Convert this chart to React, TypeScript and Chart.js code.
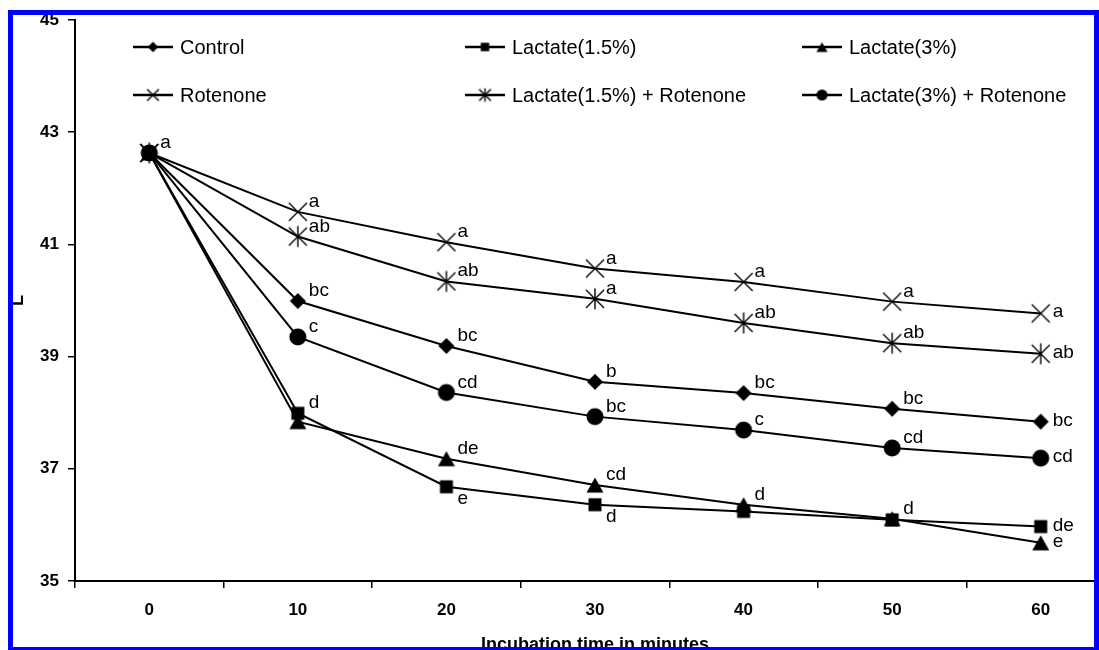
import React, { useEffect, useRef } from 'react';
import { Chart, registerables } from 'chart.js';

Chart.register(...registerables);

// ---------------- data ----------------
const timeLabels = ['0', '10', '20', '30', '40', '50', '60'];
const yMin = 35;
const yMax = 45;
const yStep = 2;

const seriesNames = [
  'Control',
  'Lactate(1.5%)',
  'Lactate(3%)',
  'Rotenone',
  'Lactate(1.5%) + Rotenone',
  'Lactate(3%) + Rotenone',
];

const controlValues = [42.63, 39.99, 39.19, 38.55, 38.35, 38.07, 37.84];
const lactate15Values = [42.63, 37.99, 36.68, 36.36, 36.24, 36.09, 35.97];
const lactate3Values = [42.63, 37.84, 37.18, 36.71, 36.36, 36.11, 35.68];
const rotenoneValues = [42.63, 41.58, 41.04, 40.57, 40.33, 39.98, 39.77];
const lactate15RotValues = [42.63, 41.14, 40.34, 40.03, 39.6, 39.24, 39.05];
const lactate3RotValues = [42.63, 39.35, 38.36, 37.93, 37.69, 37.37, 37.19];

const controlLetters = ['', 'bc', 'bc', 'b', 'bc', 'bc', 'bc'];
const lactate15Letters = ['', 'd', 'e', 'd', '', '', 'de'];
const lactate3Letters = ['', '', 'de', 'cd', 'd', 'd', 'e'];
const rotenoneLetters = ['a', 'a', 'a', 'a', 'a', 'a', 'a'];
const lactate15RotLetters = ['', 'ab', 'ab', 'a', 'ab', 'ab', 'ab'];
const lactate3RotLetters = ['', 'c', 'cd', 'bc', 'c', 'cd', 'cd'];

// letter placement: u = upper right, d = lower right, r = right
const defaultPlaces = ['u', 'u', 'u', 'u', 'u', 'u', 'r'];
const lactate15Places = ['u', 'u', 'd', 'd', 'u', 'u', 'r'];

const xAxisTitle = 'Incubation time in minutes';
const yAxisTitle = 'L';

const FONT = '"Liberation Sans", Arial, Helvetica, sans-serif';

// ---------------- markers ----------------
function makeMarker(kind: string, scale: number): HTMLCanvasElement {
  const size = Math.ceil(26 * scale) + 2;
  const c = document.createElement('canvas');
  c.width = size;
  c.height = size;
  const ctx = c.getContext('2d') as CanvasRenderingContext2D;
  const cx = size / 2;
  const cy = size / 2;
  ctx.fillStyle = '#000';
  ctx.strokeStyle = '#000';
  ctx.lineWidth = 1.4;
  ctx.beginPath();
  if (kind === 'diamond') {
    const r = 8 * scale;
    ctx.moveTo(cx, cy - r);
    ctx.lineTo(cx + r, cy);
    ctx.lineTo(cx, cy + r);
    ctx.lineTo(cx - r, cy);
    ctx.closePath();
    ctx.fill();
  } else if (kind === 'square') {
    const h = 6.5 * scale;
    ctx.rect(cx - h, cy - h, 2 * h, 2 * h);
    ctx.fill();
  } else if (kind === 'triangle') {
    const w = 8.5 * scale;
    const h = 7.5 * scale;
    ctx.moveTo(cx, cy - h);
    ctx.lineTo(cx + w, cy + h);
    ctx.lineTo(cx - w, cy + h);
    ctx.closePath();
    ctx.fill();
  } else if (kind === 'circle') {
    ctx.arc(cx, cy, 8.5 * scale, 0, Math.PI * 2);
    ctx.fill();
  } else if (kind === 'x') {
    const d = 9 * scale;
    ctx.moveTo(cx - d, cy - d);
    ctx.lineTo(cx + d, cy + d);
    ctx.moveTo(cx + d, cy - d);
    ctx.lineTo(cx - d, cy + d);
    ctx.stroke();
  } else if (kind === 'asterisk') {
    const d = 9 * scale;
    const v = 10.5 * scale;
    ctx.moveTo(cx - d, cy - d);
    ctx.lineTo(cx + d, cy + d);
    ctx.moveTo(cx + d, cy - d);
    ctx.lineTo(cx - d, cy + d);
    ctx.moveTo(cx, cy - v);
    ctx.lineTo(cx, cy + v);
    ctx.stroke();
  }
  return c;
}

const markerKinds = ['diamond', 'square', 'triangle', 'x', 'asterisk', 'circle'];

// ---------------- plugins ----------------
const letterPlugin = {
  id: 'letterPlugin',
  afterDatasetsDraw(chart: any) {
    const ctx = chart.ctx as CanvasRenderingContext2D;
    ctx.save();
    ctx.font = `19px ${FONT}`;
    ctx.fillStyle = '#000';
    ctx.textAlign = 'left';
    ctx.textBaseline = 'alphabetic';
    chart.data.datasets.forEach((ds: any, i: number) => {
      const meta = chart.getDatasetMeta(i);
      meta.data.forEach((pt: any, j: number) => {
        const t = ds.letters[j];
        if (!t) return;
        const p = ds.places[j];
        const dx = p === 'r' ? 12 : 11;
        const dy = p === 'd' ? 17 : p === 'r' ? 4 : -5;
        ctx.fillText(t, pt.x + dx, pt.y + dy);
      });
    });
    ctx.restore();
  },
};

const decorPlugin = {
  id: 'decorPlugin',
  afterDraw(chart: any) {
    const ctx = chart.ctx as CanvasRenderingContext2D;
    const area = chart.chartArea;
    ctx.save();
    ctx.fillStyle = '#000';
    ctx.strokeStyle = '#000';
    // axis titles
    ctx.font = `bold 18px ${FONT}`;
    ctx.textAlign = 'center';
    ctx.textBaseline = 'middle';
    ctx.fillText(xAxisTitle, (area.left + area.right) / 2, 645);
    ctx.save();
    ctx.translate(18, (area.top + area.bottom) / 2);
    ctx.rotate(-Math.PI / 2);
    ctx.fillText(yAxisTitle, 0, 0);
    ctx.restore();
    // legend
    const cols = [133, 465, 802];
    const rows = [47, 95];
    ctx.font = `20px ${FONT}`;
    ctx.textAlign = 'left';
    ctx.textBaseline = 'middle';
    chart.data.datasets.forEach((ds: any, i: number) => {
      const x0 = cols[i % 3];
      const y = rows[Math.floor(i / 3)];
      ctx.beginPath();
      ctx.lineWidth = 2.5;
      ctx.moveTo(x0, y);
      ctx.lineTo(x0 + 40, y);
      ctx.stroke();
      const m = ds.legendMarker as HTMLCanvasElement;
      ctx.drawImage(m, x0 + 20 - m.width / 2, y - m.height / 2);
      ctx.fillText(ds.label, x0 + 47, y + 1);
    });
    ctx.restore();
  },
};

export default function App() {
  const ref = useRef<HTMLCanvasElement>(null);

  useEffect(() => {
    const valueSets = [
      controlValues,
      lactate15Values,
      lactate3Values,
      rotenoneValues,
      lactate15RotValues,
      lactate3RotValues,
    ];
    const letterSets = [
      controlLetters,
      lactate15Letters,
      lactate3Letters,
      rotenoneLetters,
      lactate15RotLetters,
      lactate3RotLetters,
    ];
    const placeSets = [
      defaultPlaces,
      lactate15Places,
      defaultPlaces,
      defaultPlaces,
      defaultPlaces,
      defaultPlaces,
    ];
    const datasets = seriesNames.map((name, i) => ({
      label: name,
      data: valueSets[i],
      borderColor: '#000',
      backgroundColor: '#000',
      borderWidth: 2,
      tension: 0,
      pointStyle: makeMarker(markerKinds[i], 1),
      pointRadius: 6,
      pointHoverRadius: 6,
      order: i === 5 ? 0 : 1,
      letters: letterSets[i],
      places: placeSets[i],
      legendMarker: makeMarker(markerKinds[i], 0.65),
    }));

    const chart = new Chart(ref.current as HTMLCanvasElement, {
      type: 'line',
      data: { labels: timeLabels, datasets: datasets as any },
      options: {
        responsive: false,
        animation: false,
        events: [],
        layout: { padding: { top: 20, right: 15, left: 0, bottom: 0 } },
        plugins: {
          legend: { display: false },
          tooltip: { enabled: false },
          title: { display: false },
        },
        scales: {
          x: {
            type: 'category',
            offset: true,
            grid: {
              offset: true,
              drawOnChartArea: false,
              drawTicks: true,
              tickLength: 7,
              color: '#000',
              lineWidth: 1.5,
            },
            border: { color: '#000', width: 2 },
            ticks: {
              color: '#000',
              font: { family: FONT, weight: 'bold', size: 17 },
              padding: 12,
              maxRotation: 0,
              autoSkip: false,
            },
            afterFit: (s: any) => {
              s.height = 69;
            },
          },
          y: {
            min: yMin,
            max: yMax,
            grid: {
              drawOnChartArea: false,
              drawTicks: true,
              tickLength: 7,
              color: '#000',
              lineWidth: 1.5,
            },
            border: { color: '#000', width: 2 },
            ticks: {
              stepSize: yStep,
              color: '#000',
              font: { family: FONT, weight: 'bold', size: 17 },
              padding: 9,
            },
            afterFit: (s: any) => {
              s.width = 75;
            },
          },
        },
      } as any,
      plugins: [letterPlugin, decorPlugin],
    });
    return () => chart.destroy();
  }, []);

  return (
    <div
      style={{
        position: 'fixed',
        left: 0,
        top: 0,
        width: 1099,
        height: 650,
        overflow: 'hidden',
        background: '#fff',
      }}
    >
      <canvas
        ref={ref}
        width={1130}
        height={650}
        style={{ position: 'absolute', left: 0, top: 0, width: 1130, height: 650 }}
      />
      <div
        style={{
          position: 'absolute',
          left: 8,
          top: 10,
          width: 1091,
          height: 642,
          border: '5px solid #0000ff',
          boxSizing: 'border-box',
          pointerEvents: 'none',
        }}
      />
    </div>
  );
}
